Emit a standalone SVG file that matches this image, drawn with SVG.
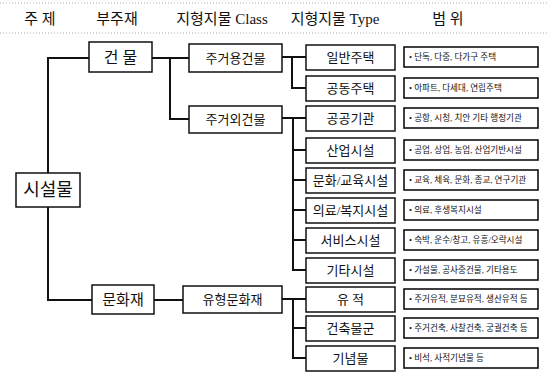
<svg xmlns="http://www.w3.org/2000/svg" width="549" height="376" viewBox="0 0 549 376">
<style>
text{font-family:"Liberation Serif","Noto Sans CJK KR",serif;fill:#111;text-anchor:middle;}
.hd{font-size:15px;}
.box{fill:#fff;stroke:#111;stroke-width:1.5;}
.rbox{fill:#fff;stroke:#111;stroke-width:1.6;}
.t{font-size:13px;}
.r{font-size:8.6px;text-anchor:start;}
.con{fill:none;stroke:#111;stroke-width:2;}
.dot{stroke:#aaa;stroke-width:1;stroke-dasharray:1 2;}
</style>
<rect width="549" height="376" fill="#fff"/>
<g id="header">
<line class="dot" x1="0" y1="3" x2="549" y2="3"/>
<line class="dot" x1="0" y1="33" x2="549" y2="33"/>
<text class="hd" x="40" y="24">주 제</text>
<text class="hd" x="117" y="24">부주재</text>
<text class="hd" x="222" y="24">지형지물 Class</text>
<text class="hd" x="335" y="24">지형지물 Type</text>
<text class="hd" x="448" y="24">범 위</text>
</g>
<g id="connectors">
<path class="con" d="M48,173 V58 H89"/>
<path class="con" d="M48,207 V300 H92"/>
<path class="con" d="M152,58 H189 M170,58 V119 H189"/>
<path class="con" d="M154,300 H183"/>
<path class="con" d="M282,57 H306 M292,57 V88 H306"/>
<path class="con" d="M282,118 H306 M293,118 V270 H306 M293,150 H306 M293,180 H306 M293,210 H306 M293,240 H306"/>
<path class="con" d="M282,299 H306 M293,299 V358 H306 M293,328 H306"/>
</g>
<g id="n-facility"><rect class="box" x="16" y="173" width="64" height="34"/><text x="48" y="196" style="font-size:18px">시설물</text></g>
<g id="n-building"><rect class="box" x="89" y="42" width="63" height="30"/><text x="120.5" y="63" style="font-size:16px">건 물</text></g>
<g id="n-culture"><rect class="box" x="92" y="285" width="62" height="29"/><text x="123" y="305" style="font-size:15px">문화재</text></g>
<g id="n-residential"><rect class="box" x="189" y="44" width="93" height="28"/><text class="t" x="235.5" y="63">주거용건물</text></g>
<g id="n-nonresidential"><rect class="box" x="189" y="106" width="93" height="27"/><text class="t" x="235.5" y="124">주거외건물</text></g>
<g id="n-tangible"><rect class="box" x="183" y="286" width="99" height="27"/><text class="t" x="232.5" y="304">유형문화재</text></g>

<g id="t1"><rect class="box" x="306" y="45" width="89" height="25"/><text class="t" x="350.5" y="62">일반주택</text></g>
<g id="t2"><rect class="box" x="306" y="76" width="89" height="25"/><text class="t" x="350.5" y="93">공동주택</text></g>
<g id="t3"><rect class="box" x="306" y="106" width="89" height="25"/><text class="t" x="350.5" y="123">공공기관</text></g>
<g id="t4"><rect class="box" x="306" y="138" width="89" height="25"/><text class="t" x="350.5" y="155">산업시설</text></g>
<g id="t5"><rect class="box" x="306" y="168" width="89" height="25"/><text class="t" x="350.5" y="185">문화/교육시설</text></g>
<g id="t6"><rect class="box" x="306" y="198" width="89" height="25"/><text class="t" x="350.5" y="215">의료/복지시설</text></g>
<g id="t7"><rect class="box" x="306" y="228" width="89" height="25"/><text class="t" x="350.5" y="245">서비스시설</text></g>
<g id="t8"><rect class="box" x="306" y="258" width="89" height="25"/><text class="t" x="350.5" y="275">기타시설</text></g>
<g id="t9"><rect class="box" x="306" y="287" width="89" height="25"/><text class="t" x="350.5" y="304">유 적</text></g>
<g id="t10"><rect class="box" x="306" y="316" width="89" height="25"/><text class="t" x="350.5" y="333">건축물군</text></g>
<g id="t11"><rect class="box" x="306" y="346" width="89" height="25"/><text class="t" x="350.5" y="363">기념물</text></g>

<g id="r1"><rect class="rbox" x="404" y="47" width="134" height="20"/><text class="r" x="409" y="60">• 단독, 다중, 다가구 주택</text></g>
<g id="r2"><rect class="rbox" x="404" y="78" width="134" height="20"/><text class="r" x="409" y="91">• 아파트, 다세대, 연립주택</text></g>
<g id="r3"><rect class="rbox" x="404" y="108" width="134" height="20"/><text class="r" x="409" y="121">• 공항, 시청, 치안 기타 행정기관</text></g>
<g id="r4"><rect class="rbox" x="404" y="140" width="134" height="20"/><text class="r" x="409" y="153">• 공업, 상업, 농업, 산업기반시설</text></g>
<g id="r5"><rect class="rbox" x="404" y="170" width="134" height="20"/><text class="r" x="409" y="183">• 교육, 체육, 문화, 종교, 연구기관</text></g>
<g id="r6"><rect class="rbox" x="404" y="200" width="134" height="20"/><text class="r" x="409" y="213">• 의료, 후생복지시설</text></g>
<g id="r7"><rect class="rbox" x="404" y="230" width="134" height="20"/><text class="r" x="409" y="243">• 숙박, 운수/창고, 유흥/오락시설</text></g>
<g id="r8"><rect class="rbox" x="404" y="260" width="134" height="20"/><text class="r" x="409" y="273">• 가설물, 공사중건물, 기타용도</text></g>
<g id="r9"><rect class="rbox" x="404" y="289" width="134" height="20"/><text class="r" x="409" y="302">• 주거유적, 분묘유적, 생산유적 등</text></g>
<g id="r10"><rect class="rbox" x="404" y="318" width="134" height="20"/><text class="r" x="409" y="331">• 주거건축, 사찰건축, 궁궐건축 등</text></g>
<g id="r11"><rect class="rbox" x="404" y="348" width="134" height="20"/><text class="r" x="409" y="361">• 비석, 사적기념물 등</text></g>
</svg>
